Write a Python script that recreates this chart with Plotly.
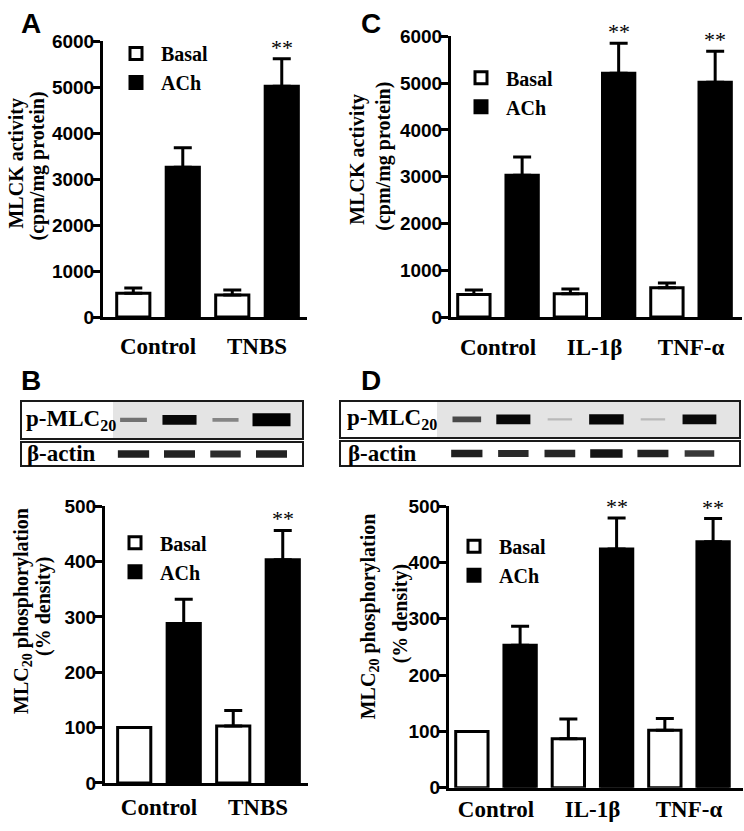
import plotly.graph_objects as go

W, H = 744, 831
SERIF = "Liberation Serif, Times New Roman, serif"
SANS = "Liberation Sans, Arial, sans-serif"

# ---------------- data ----------------
cats_AB = ["Control", "TNBS"]
cats_CD = ["Control", "IL-1β", "TNF-α"]

A_basal = [520, 480]
A_basal_err = [110, 110]
A_ach = [3260, 5020]
A_ach_err = [420, 600]
A_sig = ["", "**"]

C_basal = [480, 500, 625]
C_basal_err = [100, 100, 105]
C_ach = [3030, 5210, 5020]
C_ach_err = [390, 640, 660]
C_sig = ["", "**", "**"]

B_basal = [100, 103]
B_basal_err = [0, 28]
B_ach = [288, 403]
B_ach_err = [44, 53]
B_sig = ["", "**"]

D_basal = [100, 87, 102]
D_basal_err = [0, 35, 21]
D_ach = [253, 424, 437]
D_ach_err = [34, 55, 41]
D_sig = ["", "**", "**"]

# western blot band densities (relative, 0-1)
blotB_pmlc = [0.2, 0.72, 0.15, 1.0]
blotB_actin = [0.52, 0.5, 0.46, 0.5]
blotD_pmlc = [0.33, 0.72, 0.03, 0.75, 0.03, 0.7]
blotD_actin = [0.52, 0.46, 0.48, 0.6, 0.5, 0.4]

y_title_mlck = ["MLCK activity", "(cpm/mg protein)"]
y_title_phos = ["MLC<sub>20</sub> phosphorylation", "(% density)"]


def fx(px):
    return px / W


def fy(py):
    return 1 - py / H


fig = go.Figure()

panels = [
    dict(letter="A", xa="x", ya="y", leg="legend", cats=cats_AB,
         basal=A_basal, berr=A_basal_err, ach=A_ach, aerr=A_ach_err, sig=A_sig,
         xdom=(103, 307), ydom=(315, 32), xr=(-0.556, 1.505), ymax=6000, dtick=1000,
         leg_pos=(111, 59.5), titles=y_title_mlck, tpos=[(16.5, 157), (37.5, 160)], tsize=20,
         letter_pos=(31, 14), standoff=6),
    dict(letter="C", xa="x2", ya="y2", leg="legend2", cats=cats_CD,
         basal=C_basal, berr=C_basal_err, ach=C_ach, aerr=C_ach_err, sig=C_sig,
         xdom=(451, 742), ydom=(315, 27), xr=(-0.487, 2.528), ymax=6000, dtick=1000,
         leg_pos=(456, 84.5), titles=y_title_mlck, tpos=[(357.5, 153), (383.5, 150)], tsize=20,
         letter_pos=(371, 14), standoff=7),
    dict(letter="B", xa="x3", ya="y3", leg="legend3", cats=cats_AB,
         basal=B_basal, berr=B_basal_err, ach=B_ach, aerr=B_ach_err, sig=B_sig,
         xdom=(105, 308), ydom=(793, 509), xr=(-0.545, 1.505), ymax=500, dtick=100,
         leg_pos=(110, 561.5), titles=y_title_phos, tpos=[(22.5, 617), (43.5, 612)], tsize=20,
         letter_pos=(31, 380), standoff=1),
    dict(letter="D", xa="x4", ya="y4", leg="legend4", cats=cats_CD,
         basal=D_basal, berr=D_basal_err, ach=D_ach, aerr=D_ach_err, sig=D_sig,
         xdom=(449, 743), ydom=(798, 509), xr=(-0.487, 2.56), ymax=500, dtick=100,
         leg_pos=(449, 565), titles=y_title_phos, tpos=[(369, 622), (400, 620)], tsize=20,
         letter_pos=(371, 380), standoff=-1),
]

annotations = []
layout_axes = {}

for p in panels:
    n = len(p["cats"])
    fig.add_trace(go.Bar(
        x=p["cats"], y=p["basal"], name="Basal",
        marker=dict(color="white", line=dict(color="black", width=3)),
        error_y=dict(type="data", array=p["berr"], arrayminus=[0] * n, symmetric=False,
                     color="black", thickness=3, width=9),
        xaxis=p["xa"], yaxis=p["ya"], legend=p["leg"], hoverinfo="skip"))
    fig.add_trace(go.Bar(
        x=p["cats"], y=p["ach"], name="ACh",
        marker=dict(color="black", line=dict(color="black", width=3)),
        error_y=dict(type="data", array=p["aerr"], arrayminus=[0] * n, symmetric=False,
                     color="black", thickness=3, width=9),
        xaxis=p["xa"], yaxis=p["ya"], legend=p["leg"], hoverinfo="skip"))

    xkey = "xaxis" + p["xa"][1:]
    ykey = "yaxis" + p["ya"][1:]
    layout_axes[xkey] = dict(
        domain=[fx(p["xdom"][0]), fx(p["xdom"][1])], range=list(p["xr"]),
        anchor=p["ya"], showline=True, linewidth=3, linecolor="black",
        ticks="", showgrid=False, zeroline=False, fixedrange=True,
        tickfont=dict(family=SERIF, size=23, color="black", weight="bold"),
        ticklabelstandoff=p["standoff"])
    layout_axes[ykey] = dict(
        domain=[fy(p["ydom"][0]), fy(p["ydom"][1])], range=[0, p["ymax"]],
        anchor=p["xa"], showline=True, linewidth=3, linecolor="black",
        ticks="outside", ticklen=7, tickwidth=3, tickcolor="black",
        dtick=p["dtick"], tick0=0, showgrid=False, zeroline=False, fixedrange=True,
        ticklabelstandoff=-5,
        tickfont=dict(family=SANS, size=19, color="black", weight="bold"))

    # significance marks
    pxpu = (p["xdom"][1] - p["xdom"][0]) / (p["xr"][1] - p["xr"][0])
    for i, s in enumerate(p["sig"]):
        if s:
            annotations.append(dict(
                x=p["cats"][i], y=p["ach"][i] + p["aerr"][i], xref=p["xa"], yref=p["ya"],
                text=s, showarrow=False, xanchor="center", yanchor="bottom",
                xshift=0.25 * pxpu, yshift=-3,
                font=dict(family=SERIF, size=22, color="black")))

    # y-axis titles (two lines)
    for t, (tx, ty) in zip(p["titles"], p["tpos"]):
        annotations.append(dict(
            x=fx(tx), y=fy(ty), xref="paper", yref="paper", text=t, textangle=-90,
            showarrow=False, xanchor="center", yanchor="middle",
            font=dict(family=SERIF, size=p["tsize"], color="black", weight="bold")))

    # panel letters
    annotations.append(dict(
        x=fx(p["letter_pos"][0]), y=fy(p["letter_pos"][1]), xref="paper", yref="paper",
        text=p["letter"], showarrow=False, xanchor="center", yanchor="middle",
        font=dict(family=SANS, size=28, color="black", weight="bold")))

# legends
legends = {}
for p in panels:
    legends[p["leg"]] = dict(
        x=fx(p["leg_pos"][0]), y=fy(p["leg_pos"][1]), xanchor="left", yanchor="middle",
        bgcolor="rgba(0,0,0,0)", borderwidth=0, itemwidth=40,
        font=dict(family=SERIF, size=20, color="black", weight="bold"),
        itemclick=False, itemdoubleclick=False)

# ---------------- western blots ----------------
blots = [
    dict(xa="x5", ya="y5", vals=blotB_pmlc, xdom=(22, 302), ydom=(439, 402),
         xr=(-2.424, 3.663), gray_from=-0.446, label="p-MLC<sub>20</sub>", lab_x=24),
    dict(xa="x6", ya="y6", vals=blotB_actin, xdom=(22, 302), ydom=(467, 444),
         xr=(-2.424, 3.663), gray_from=None, label="β-actin", lab_x=25),
    dict(xa="x7", ya="y7", vals=blotD_pmlc, xdom=(341, 739), ydom=(438, 402),
         xr=(-2.704, 5.85), gray_from=-0.64, label="p-MLC<sub>20</sub>", lab_x=345),
    dict(xa="x8", ya="y8", vals=blotD_actin, xdom=(341, 739), ydom=(467, 443),
         xr=(-2.704, 5.85), gray_from=None, label="β-actin", lab_x=346),
]

shapes = []
for b in blots:
    vals = b["vals"]
    for lane, v in enumerate(vals):
        g = int(round(200 * (1 - v) ** 2.5))
        col = f"rgb({g},{g},{g})"
        fig.add_trace(go.Scatter(
            x=[lane], y=[0.5], mode="markers",
            marker=dict(symbol="line-ew", size=(24 + 14 * v) / 1.4, color=col,
                        line=dict(width=2 + 11 * v, color=col)),
            xaxis=b["xa"], yaxis=b["ya"], showlegend=False, hoverinfo="skip"))
    xkey = "xaxis" + b["xa"][1:]
    ykey = "yaxis" + b["ya"][1:]
    layout_axes[xkey] = dict(
        domain=[fx(b["xdom"][0]), fx(b["xdom"][1])], range=list(b["xr"]), anchor=b["ya"],
        showline=True, mirror=True, linewidth=2, linecolor="#1a1a1a",
        showticklabels=False, ticks="", showgrid=False, zeroline=False, fixedrange=True)
    layout_axes[ykey] = dict(
        domain=[fy(b["ydom"][0]), fy(b["ydom"][1])], range=[0, 1], anchor=b["xa"],
        showline=True, mirror=True, linewidth=2, linecolor="#1a1a1a",
        showticklabels=False, ticks="", showgrid=False, zeroline=False, fixedrange=True)
    if b["gray_from"] is not None:
        shapes.append(dict(
            type="rect", xref=b["xa"], yref=b["ya"] + " domain",
            x0=b["gray_from"], x1=b["xr"][1], y0=0, y1=1,
            fillcolor="#e4e4e4", line=dict(width=0), layer="below"))
    annotations.append(dict(
        x=fx(b["lab_x"]), y=0.5, xref="paper", yref=b["ya"] + " domain",
        text=b["label"], showarrow=False, xanchor="left", yanchor="middle",
        font=dict(family=SERIF, size=23, color="black", weight="bold")))

fig.update_layout(
    width=W, height=H, margin=dict(l=0, r=0, t=0, b=0),
    paper_bgcolor="white", plot_bgcolor="white",
    barmode="group", bargap=0, bargroupgap=0.33,
    showlegend=True, annotations=annotations, shapes=shapes,
    **layout_axes, **legends)

fig.write_html(
    "out.html",
    config={"displayModeBar": False},
    post_script="document.body.style.margin='0';document.body.style.padding='0';"
                "document.body.style.overflow='hidden';")
